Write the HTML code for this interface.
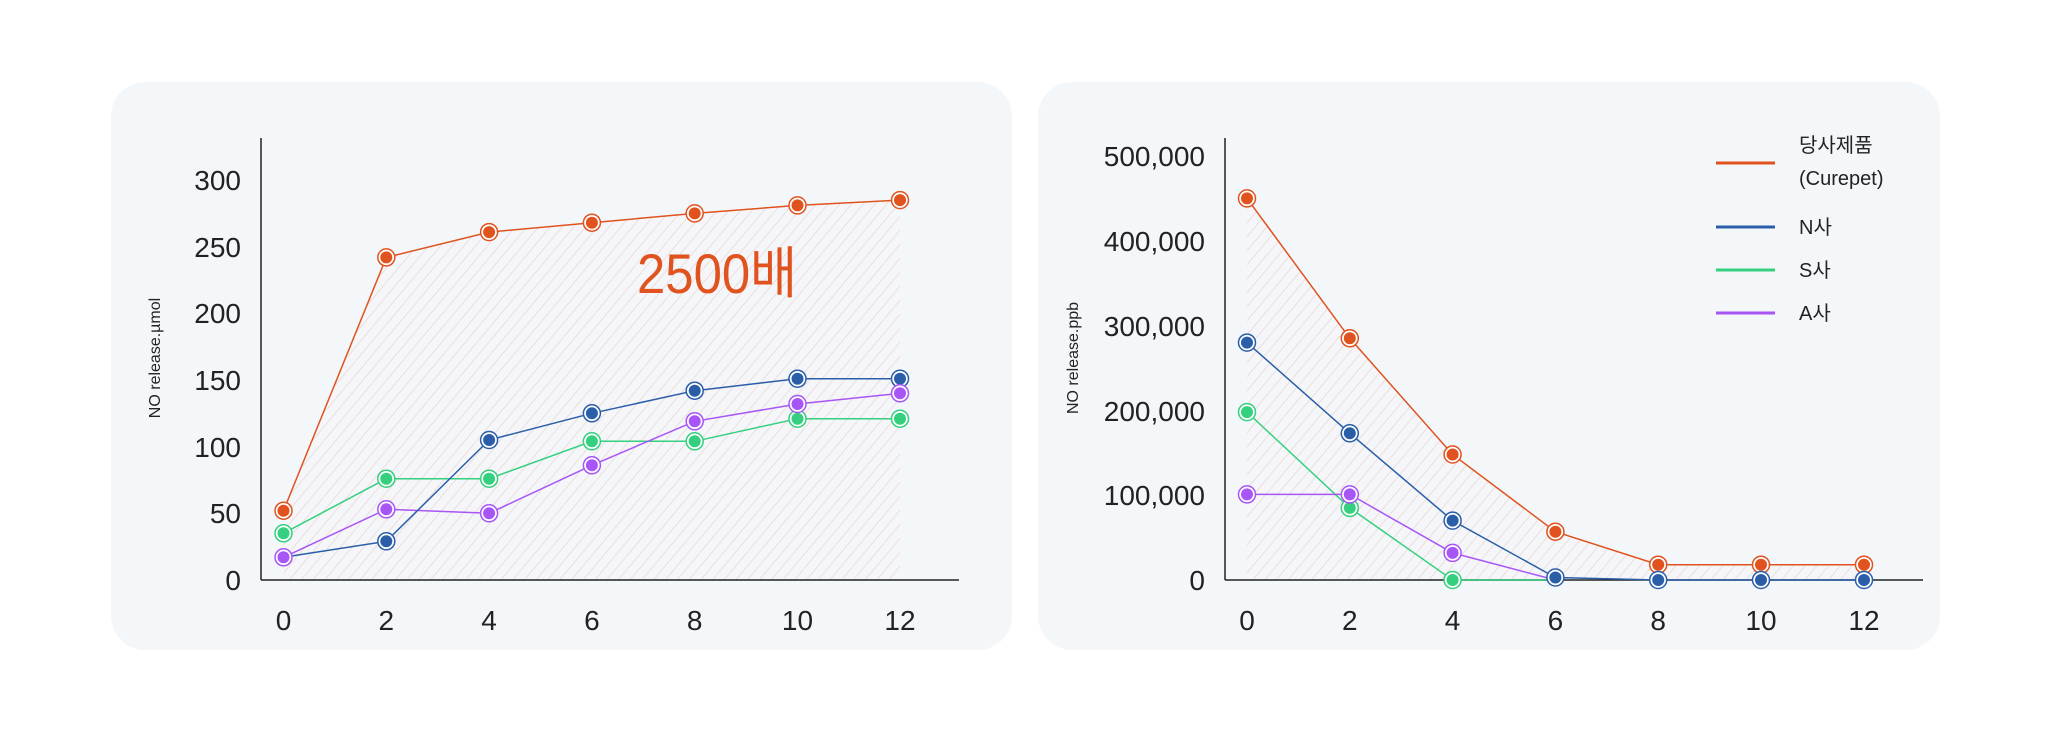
<!DOCTYPE html>
<html><head><meta charset="utf-8"><style>
html,body{margin:0;padding:0;background:#fff;}
svg{display:block;}
text{font-family:"Liberation Sans","Noto Sans CJK KR",sans-serif;}
</style></head><body>
<svg width="2048" height="731" viewBox="0 0 2048 731" xmlns="http://www.w3.org/2000/svg">
<defs>
<pattern id="h" patternUnits="userSpaceOnUse" width="9" height="9" patternTransform="rotate(40)">
<rect width="9" height="9" fill="#f4f6f9"/>
<line x1="0" y1="0" x2="0" y2="9" stroke="#ecd9d3" stroke-width="1.6"/>
</pattern>
</defs>
<rect x="111" y="82" width="901" height="568" rx="34" fill="#f4f7fa"/>
<rect x="1038" y="82" width="902" height="568" rx="34" fill="#f4f7fa"/>

<!-- LEFT CHART -->
<polygon fill="url(#h)" points="283.5,580 283.5,510.7 386.3,257.4 489.1,232.1 591.9,222.7 694.7,213.4 797.5,205.4 900,200.1 900,580"/>
<line x1="261" y1="138" x2="261" y2="580" stroke="#222" stroke-width="1.5"/>
<line x1="261" y1="580" x2="959" y2="580" stroke="#222" stroke-width="1.5"/>
<g font-size="28" fill="#222" text-anchor="end">
<text x="241" y="190">300</text><text x="241" y="257">250</text><text x="241" y="323">200</text>
<text x="241" y="390">150</text><text x="241" y="457">100</text><text x="241" y="523">50</text><text x="241" y="590">0</text>
</g>
<g font-size="28" fill="#222" text-anchor="middle">
<text x="283.5" y="630">0</text><text x="386.3" y="630">2</text><text x="489.1" y="630">4</text><text x="591.9" y="630">6</text><text x="694.7" y="630">8</text><text x="797.5" y="630">10</text><text x="900" y="630">12</text>
</g>
<text transform="translate(160,358) rotate(-90)" font-size="16" fill="#222" text-anchor="middle">NO release.µmol</text>
<text x="637" y="293" font-size="56" fill="#e0531f" textLength="160" lengthAdjust="spacingAndGlyphs">2500배</text>

<!-- RIGHT CHART -->
<polygon fill="url(#h)" points="1225,580 1247,580 1247,198.4 1349.8,338.3 1452.6,454.5 1555.4,531.7 1658.2,564.7 1761,564.7 1864,564.7 1864,580"/>
<line x1="1225" y1="138" x2="1225" y2="580" stroke="#222" stroke-width="1.5"/>
<line x1="1225" y1="580" x2="1923" y2="580" stroke="#222" stroke-width="1.5"/>
<g font-size="28" fill="#222" text-anchor="end">
<text x="1205" y="166">500,000</text><text x="1205" y="251">400,000</text><text x="1205" y="336">300,000</text>
<text x="1205" y="421">200,000</text><text x="1205" y="505">100,000</text><text x="1205" y="590">0</text>
</g>
<g font-size="28" fill="#222" text-anchor="middle">
<text x="1247" y="630">0</text><text x="1349.8" y="630">2</text><text x="1452.6" y="630">4</text><text x="1555.4" y="630">6</text><text x="1658.2" y="630">8</text><text x="1761" y="630">10</text><text x="1864" y="630">12</text>
</g>
<text transform="translate(1078,358) rotate(-90)" font-size="16" fill="#222" text-anchor="middle">NO release.ppb</text>

<g font-size="20" fill="#222">
<line x1="1716" y1="163" x2="1775" y2="163" stroke="#e0531f" stroke-width="3"/>
<text x="1799" y="152">당사제품</text><text x="1799" y="185">(Curepet)</text>
<line x1="1716" y1="227" x2="1775" y2="227" stroke="#2a5ea8" stroke-width="3"/>
<text x="1799" y="234">N사</text>
<line x1="1716" y1="270" x2="1775" y2="270" stroke="#35d07f" stroke-width="3"/>
<text x="1799" y="277">S사</text>
<line x1="1716" y1="313" x2="1775" y2="313" stroke="#a855f7" stroke-width="3"/>
<text x="1799" y="320">A사</text>
</g>

<!-- series -->
<g fill="none" stroke-width="1.5">
<polyline stroke="#e0531f" points="283.5,510.7 386.3,257.4 489.1,232.1 591.9,222.7 694.7,213.4 797.5,205.4 900,200.1"/>
<polyline stroke="#35d07f" points="283.5,533.3 386.3,478.7 489.1,478.7 591.9,441.3 694.7,441.3 797.5,418.7 900,418.7"/>
<polyline stroke="#a855f7" points="283.5,557.3 386.3,509.3 489.1,513.3 591.9,465.3 694.7,421.3 797.5,404 900,393.3"/>
<polyline stroke="#2a5ea8" points="283.5,557.3 386.3,541.3 489.1,440 591.9,413.3 694.7,390.7 797.5,378.7 900,378.7"/>
<polyline stroke="#e0531f" points="1247,198.4 1349.8,338.3 1452.6,454.5 1555.4,531.7 1658.2,564.7 1761,564.7 1864,564.7"/>
<polyline stroke="#2a5ea8" points="1247,342.6 1349.8,433.3 1452.6,520.6 1555.4,577.5 1658.2,580 1761,580 1864,580"/>
<polyline stroke="#35d07f" points="1247,412.1 1349.8,507.9 1452.6,580 1555.4,580"/>
<polyline stroke="#a855f7" points="1247,494.4 1349.8,494.4 1452.6,552.9 1555.4,580"/>
</g>

<g id="m" stroke-width="1.5" fill="#fff">
<!-- left orange -->
<g stroke="#e0531f"><circle cx="283.5" cy="510.7" r="8.5"/><circle cx="386.3" cy="257.4" r="8.5"/><circle cx="489.1" cy="232.1" r="8.5"/><circle cx="591.9" cy="222.7" r="8.5"/><circle cx="694.7" cy="213.4" r="8.5"/><circle cx="797.5" cy="205.4" r="8.5"/><circle cx="900" cy="200.1" r="8.5"/></g>
<g fill="#e0531f"><circle cx="283.5" cy="510.7" r="6"/><circle cx="386.3" cy="257.4" r="6"/><circle cx="489.1" cy="232.1" r="6"/><circle cx="591.9" cy="222.7" r="6"/><circle cx="694.7" cy="213.4" r="6"/><circle cx="797.5" cy="205.4" r="6"/><circle cx="900" cy="200.1" r="6"/></g>
<g stroke="#35d07f"><circle cx="283.5" cy="533.3" r="8.5"/><circle cx="386.3" cy="478.7" r="8.5"/><circle cx="489.1" cy="478.7" r="8.5"/><circle cx="591.9" cy="441.3" r="8.5"/><circle cx="694.7" cy="441.3" r="8.5"/><circle cx="797.5" cy="418.7" r="8.5"/><circle cx="900" cy="418.7" r="8.5"/></g>
<g fill="#35d07f"><circle cx="283.5" cy="533.3" r="6"/><circle cx="386.3" cy="478.7" r="6"/><circle cx="489.1" cy="478.7" r="6"/><circle cx="591.9" cy="441.3" r="6"/><circle cx="694.7" cy="441.3" r="6"/><circle cx="797.5" cy="418.7" r="6"/><circle cx="900" cy="418.7" r="6"/></g>
<g stroke="#2a5ea8"><circle cx="386.3" cy="541.3" r="8.5"/><circle cx="489.1" cy="440" r="8.5"/><circle cx="591.9" cy="413.3" r="8.5"/><circle cx="694.7" cy="390.7" r="8.5"/><circle cx="797.5" cy="378.7" r="8.5"/><circle cx="900" cy="378.7" r="8.5"/></g>
<g fill="#2a5ea8"><circle cx="386.3" cy="541.3" r="6"/><circle cx="489.1" cy="440" r="6"/><circle cx="591.9" cy="413.3" r="6"/><circle cx="694.7" cy="390.7" r="6"/><circle cx="797.5" cy="378.7" r="6"/><circle cx="900" cy="378.7" r="6"/></g>
<g stroke="#a855f7"><circle cx="283.5" cy="557.3" r="8.5"/><circle cx="386.3" cy="509.3" r="8.5"/><circle cx="489.1" cy="513.3" r="8.5"/><circle cx="591.9" cy="465.3" r="8.5"/><circle cx="694.7" cy="421.3" r="8.5"/><circle cx="797.5" cy="404" r="8.5"/><circle cx="900" cy="393.3" r="8.5"/></g>
<g fill="#a855f7"><circle cx="283.5" cy="557.3" r="6"/><circle cx="386.3" cy="509.3" r="6"/><circle cx="489.1" cy="513.3" r="6"/><circle cx="591.9" cy="465.3" r="6"/><circle cx="694.7" cy="421.3" r="6"/><circle cx="797.5" cy="404" r="6"/><circle cx="900" cy="393.3" r="6"/></g>
<!-- right -->
<g stroke="#35d07f"><circle cx="1247" cy="412.1" r="8.5"/><circle cx="1349.8" cy="507.9" r="8.5"/><circle cx="1452.6" cy="580" r="8.5"/></g>
<g fill="#35d07f"><circle cx="1247" cy="412.1" r="6"/><circle cx="1349.8" cy="507.9" r="6"/><circle cx="1452.6" cy="580" r="6"/></g>
<g stroke="#a855f7"><circle cx="1247" cy="494.4" r="8.5"/><circle cx="1349.8" cy="494.4" r="8.5"/><circle cx="1452.6" cy="552.9" r="8.5"/></g>
<g fill="#a855f7"><circle cx="1247" cy="494.4" r="6"/><circle cx="1349.8" cy="494.4" r="6"/><circle cx="1452.6" cy="552.9" r="6"/></g>
<g stroke="#e0531f"><circle cx="1247" cy="198.4" r="8.5"/><circle cx="1349.8" cy="338.3" r="8.5"/><circle cx="1452.6" cy="454.5" r="8.5"/><circle cx="1555.4" cy="531.7" r="8.5"/><circle cx="1658.2" cy="564.7" r="8.5"/><circle cx="1761" cy="564.7" r="8.5"/><circle cx="1864" cy="564.7" r="8.5"/></g>
<g fill="#e0531f"><circle cx="1247" cy="198.4" r="6"/><circle cx="1349.8" cy="338.3" r="6"/><circle cx="1452.6" cy="454.5" r="6"/><circle cx="1555.4" cy="531.7" r="6"/><circle cx="1658.2" cy="564.7" r="6"/><circle cx="1761" cy="564.7" r="6"/><circle cx="1864" cy="564.7" r="6"/></g>
<g stroke="#2a5ea8"><circle cx="1247" cy="342.6" r="8.5"/><circle cx="1349.8" cy="433.3" r="8.5"/><circle cx="1452.6" cy="520.6" r="8.5"/><circle cx="1555.4" cy="577.5" r="8.5"/><circle cx="1658.2" cy="580" r="8.5"/><circle cx="1761" cy="580" r="8.5"/><circle cx="1864" cy="580" r="8.5"/></g>
<g fill="#2a5ea8"><circle cx="1247" cy="342.6" r="6"/><circle cx="1349.8" cy="433.3" r="6"/><circle cx="1452.6" cy="520.6" r="6"/><circle cx="1555.4" cy="577.5" r="6"/><circle cx="1658.2" cy="580" r="6"/><circle cx="1761" cy="580" r="6"/><circle cx="1864" cy="580" r="6"/></g>
</g>
</svg>
</body></html>
